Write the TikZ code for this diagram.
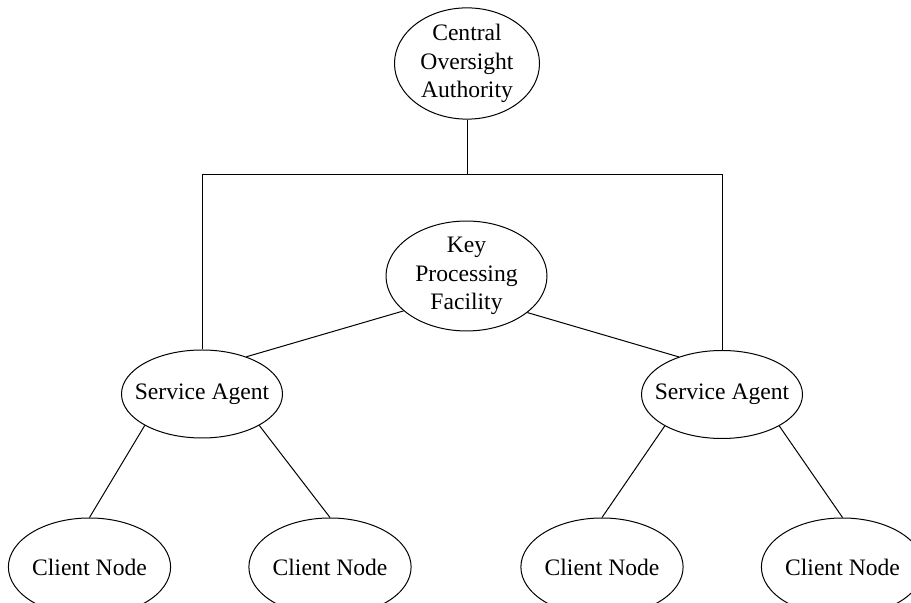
\documentclass[tikz,border=0pt]{standalone}
\usepackage{fontspec}
\setmainfont{Liberation Serif}
\usepackage{tikz}
\usetikzlibrary{shapes.geometric}

\begin{document}
\begin{tikzpicture}[x=0.5pt,y=-0.5pt,line width=0.5pt]
        \useasboundingbox (0,0) rectangle (911,603);
        \begin{scope}[every node/.style={ellipse,draw=black,inner sep=0pt,align=center,minimum width=80.5pt,font=\fontsize{11.8}{14.3}\selectfont}]
            \node[minimum width=72.5pt,minimum height=55pt] (1) at (467,63.5) {Central\\Oversight\\Authority};
            \node[minimum height=54pt] (2) at (466.5,276) {Key\\Processing\\Facility};

            \node[minimum height=44pt,inner xsep=-5.6pt] (3) at (202,394) {Service Agent};
            \node[minimum height=44pt,inner xsep=-5.6pt] (4) at (722,394.5) {Service Agent};

            \node[minimum height=49pt] (5) at (89.5,567) {Client Node};
            \node[minimum height=49pt] (6) at (330,567) {Client Node};
            \node[minimum height=49pt] (7) at (602,567) {Client Node};
            \node[minimum height=49pt] (8) at (842.5,567) {Client Node};
        \end{scope}
        \coordinate (top) at (467,174.5);
        \draw (1) -- (top);
        \draw (3.north) |- (top) -| (4.north);
        \begin{scope}[every edge/.style={draw}]
            \path [-] (2.209) edge (3.40);
            \path [-] (2.329) edge (4.139);

            \path [-] (3.south west) edge (5.north);
            \path [-] (3.south east) edge (6.north);

            \path [-] (4.south west) edge (7.north);
            \path [-] (4.south east) edge (8.north);
        \end{scope}
    \end{tikzpicture}
\end{document}
